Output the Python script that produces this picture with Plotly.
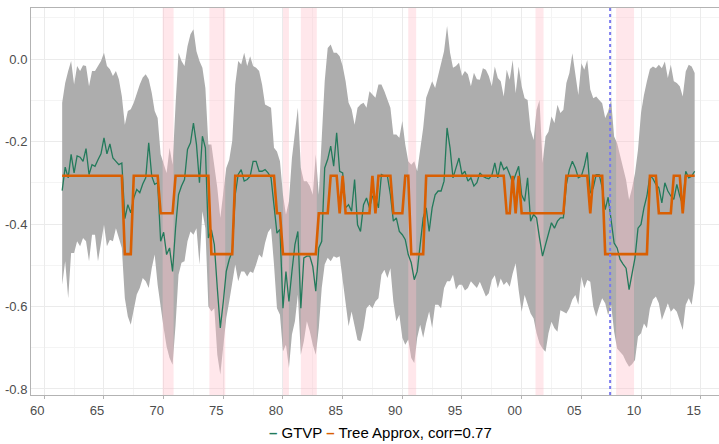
import pandas as pd
import plotly.graph_objects as go

# GTVP estimate, quarterly from 1961Q3 to 2014Q3
gtvp = [
    -0.319, -0.262,                  # 1961
    -0.288, -0.231, -0.276, -0.235,  # 1962
    -0.238, -0.248, -0.217, -0.280,  # 1963
    -0.256, -0.260, -0.244, -0.230,  # 1964
    -0.191, -0.230, -0.206, -0.240,  # 1965
    -0.248, -0.256, -0.252, -0.387,  # 1966
    -0.353, -0.373, -0.337, -0.316,  # 1967
    -0.324, -0.303, -0.288, -0.203,  # 1968
    -0.284, -0.304, -0.300, -0.442,  # 1969
    -0.420, -0.474, -0.458, -0.515,  # 1970
    -0.409, -0.329, -0.308, -0.292,  # 1971
    -0.219, -0.203, -0.155, -0.207,  # 1972
    -0.300, -0.187, -0.215, -0.434,  # 1973
    -0.414, -0.450, -0.555, -0.652,  # 1974
    -0.588, -0.515, -0.486, -0.466,  # 1975
    -0.329, -0.280, -0.268, -0.296,  # 1976
    -0.292, -0.284, -0.248, -0.248,  # 1977
    -0.272, -0.272, -0.268, -0.276,  # 1978
    -0.288, -0.353, -0.422, -0.413,  # 1979
    -0.604, -0.515, -0.588, -0.515,  # 1980
    -0.450, -0.418, -0.604, -0.482,  # 1981
    -0.478, -0.478, -0.503, -0.563,  # 1982
    -0.458, -0.442, -0.264, -0.243,  # 1983
    -0.211, -0.260, -0.179, -0.272,  # 1984
    -0.276, -0.361, -0.353, -0.369,  # 1985
    -0.292, -0.402, -0.418, -0.353,  # 1986
    -0.337, -0.361, -0.333, -0.335,  # 1987
    -0.361, -0.280, -0.284, -0.284,  # 1988
    -0.329, -0.393, -0.385, -0.418,  # 1989
    -0.426, -0.438, -0.474, -0.494,  # 1990
    -0.535, -0.515, -0.442, -0.385,  # 1991
    -0.361, -0.418, -0.361, -0.329,  # 1992
    -0.320, -0.320, -0.296, -0.167,  # 1993
    -0.216, -0.288, -0.264, -0.240,  # 1994
    -0.280, -0.272, -0.296, -0.288,  # 1995
    -0.308, -0.300, -0.276, -0.284,  # 1996
    -0.288, -0.290, -0.282, -0.252,  # 1997
    -0.288, -0.249, -0.268, -0.262,  # 1998
    -0.280, -0.300, -0.280, -0.260,  # 1999
    -0.329, -0.345, -0.288, -0.393,  # 2000
    -0.377, -0.385, -0.434, -0.478,  # 2001
    -0.450, -0.422, -0.397, -0.410,  # 2002
    -0.393, -0.385, -0.385, -0.304,  # 2003
    -0.268, -0.248, -0.264, -0.288,  # 2004
    -0.284, -0.260, -0.226, -0.325,  # 2005
    -0.312, -0.280, -0.280, -0.312,  # 2006
    -0.365, -0.335, -0.393, -0.446,  # 2007
    -0.458, -0.486, -0.497, -0.507,  # 2008
    -0.559, -0.523, -0.482, -0.410,  # 2009
    -0.401, -0.361, -0.332, -0.282,  # 2010
    -0.290, -0.304, -0.312, -0.349,  # 2011
    -0.300, -0.320, -0.332, -0.340,  # 2012
    -0.304, -0.332, -0.353, -0.272,  # 2013
    -0.288, -0.284, -0.272,          # 2014
]

# upper edge of the grey band
band_upper = [
    -0.106, -0.058,
    -0.029, -0.005, -0.062, -0.017,
    -0.029, -0.015, -0.017, -0.066,
    -0.029, -0.029, -0.017, -0.005,
    0.015, -0.017, -0.025, -0.041,
    -0.029, -0.049, -0.090, -0.159,
    -0.126, -0.122, -0.106, -0.082,
    -0.062, -0.045, -0.037, -0.049,
    -0.082, -0.126, -0.143, -0.231,
    -0.256, -0.276, -0.215, -0.256,
    -0.110, 0.015, -0.005, -0.017,
    0.031, 0.060, 0.072, 0.019,
    -0.005, -0.021, -0.070, -0.207,
    -0.207, -0.256, -0.312, -0.385,
    -0.316, -0.264, -0.244, -0.199,
    -0.062, -0.005, -0.013, 0.015,
    -0.017, 0.007, -0.017, -0.021,
    -0.029, -0.062, -0.110, -0.114,
    -0.118, -0.215, -0.224, -0.248,
    -0.329, -0.377, -0.345, -0.240,
    -0.183, -0.118, -0.264, -0.296,
    -0.296, -0.308, -0.329, -0.231,
    -0.329, -0.183, -0.054, 0.027,
    0.035, 0.015, 0.015, 0.007,
    -0.017, -0.054, -0.106, -0.122,
    -0.159, -0.118, -0.110, -0.106,
    -0.118, -0.078, -0.086, -0.094,
    -0.062, -0.062, -0.078, -0.098,
    -0.118, -0.183, -0.183, -0.191,
    -0.150, -0.207, -0.248, -0.256,
    -0.248, -0.272, -0.215, -0.167,
    -0.094, -0.074, -0.054, -0.070,
    -0.041, -0.017, 0.019, 0.080,
    0.015, -0.021, -0.017, -0.009,
    -0.041, -0.029, -0.037, -0.066,
    -0.033, -0.049, -0.050, -0.022,
    -0.026, -0.041, -0.066, -0.018,
    -0.046, -0.054, -0.091, -0.026,
    -0.050, -0.002, -0.083, -0.018,
    -0.066, -0.095, -0.099, -0.172,
    -0.196, -0.123, -0.099, -0.252,
    -0.188, -0.176, -0.139, -0.155,
    -0.111, -0.131, -0.123, -0.058,
    -0.034, 0.014, -0.038, -0.087,
    -0.010, -0.026, -0.002, -0.074,
    -0.095, -0.091, -0.099, -0.107,
    -0.143, -0.127, -0.099, -0.188,
    -0.204, -0.236, -0.265, -0.293,
    -0.341, -0.313, -0.277, -0.220,
    -0.131, -0.087, -0.054, -0.024,
    -0.018, -0.022, -0.014, -0.022,
    -0.006, -0.046, -0.014, -0.054,
    -0.058, -0.066, -0.091, -0.030,
    -0.014, -0.018, -0.034,
]

# lower edge of the grey band
band_lower = [
    -0.547, -0.490,
    -0.580, -0.470, -0.470, -0.442,
    -0.454, -0.434, -0.442, -0.490,
    -0.426, -0.426, -0.490, -0.442,
    -0.402, -0.454, -0.438, -0.442,
    -0.410, -0.434, -0.458, -0.580,
    -0.624, -0.644, -0.604, -0.571,
    -0.555, -0.531, -0.539, -0.555,
    -0.507, -0.474, -0.547, -0.604,
    -0.652, -0.697, -0.725, -0.741,
    -0.644, -0.523, -0.494, -0.490,
    -0.442, -0.418, -0.426, -0.410,
    -0.498, -0.369, -0.410, -0.600,
    -0.612, -0.604, -0.717, -0.765,
    -0.701, -0.628, -0.588, -0.539,
    -0.498, -0.539, -0.515, -0.515,
    -0.527, -0.515, -0.519, -0.498,
    -0.474, -0.482, -0.446, -0.420,
    -0.410, -0.498, -0.604, -0.620,
    -0.709, -0.693, -0.749, -0.668,
    -0.636, -0.571, -0.717, -0.684,
    -0.636, -0.660, -0.693, -0.717,
    -0.652, -0.555, -0.498, -0.482,
    -0.490, -0.478, -0.482, -0.478,
    -0.539, -0.588, -0.648, -0.612,
    -0.644, -0.681, -0.684, -0.652,
    -0.604, -0.596, -0.604, -0.588,
    -0.580, -0.523, -0.511, -0.531,
    -0.507, -0.588, -0.636, -0.620,
    -0.676, -0.693, -0.680, -0.725,
    -0.737, -0.676, -0.644, -0.676,
    -0.640, -0.612, -0.652, -0.596,
    -0.596, -0.604, -0.555, -0.539,
    -0.539, -0.523, -0.559, -0.547,
    -0.547, -0.561, -0.555, -0.539,
    -0.547, -0.555, -0.540, -0.560,
    -0.576, -0.568, -0.536, -0.524,
    -0.556, -0.532, -0.548, -0.540,
    -0.552, -0.520, -0.495, -0.560,
    -0.613, -0.572, -0.596, -0.617,
    -0.629, -0.665, -0.690, -0.702,
    -0.710, -0.665, -0.637, -0.653,
    -0.661, -0.609, -0.613, -0.617,
    -0.604, -0.583, -0.572, -0.596,
    -0.528, -0.556, -0.536, -0.540,
    -0.600, -0.625, -0.600, -0.580,
    -0.592, -0.621, -0.596, -0.661,
    -0.702, -0.710, -0.718, -0.734,
    -0.746, -0.740, -0.730, -0.673,
    -0.665, -0.641, -0.653, -0.604,
    -0.583, -0.576, -0.592, -0.633,
    -0.613, -0.592, -0.613, -0.604,
    -0.613, -0.633, -0.657, -0.596,
    -0.580, -0.596, -0.544,
]

# tree approximation: three leaf values, one code per quarter
tree_leaves = {"T": -0.283, "M": -0.374, "L": -0.473}
tree_codes = [
    "TT",
    "TTTT", "TTTT", "TTTT", "TTTT", "TTTL", "LLTT", "TTTT", "TTTM",  # 1962-69
    "MMMM", "TTTT", "TTTT", "TTTT", "LLLL", "LLLL", "TTTT", "TTTT", "TTTT", "TTMM",  # 1970-79
    "LLLL", "LLLL", "LLLL", "MMMM", "TTTM", "TMMM", "MMMM", "MMTM", "TTTT", "TMMM",  # 1980-89
    "MTTL", "LLLL", "TTTT", "TTTT", "TTTT", "TTTT", "TTTT", "TTTT", "TTTM", "MTMT",  # 1990-99
    "MMMM", "MMMM", "MMMM", "MMMT", "TTTT", "TTTM", "TTTT", "LLLL", "LLLL", "LLLL",  # 2000-09
    "LLLT", "TTMM", "MMMT", "TTMT", "TTT",  # 2010-14
]
tree = [tree_leaves[c] for c in "".join(tree_codes)]

# NBER recessions and the marked date
recessions = [
    ("1969-12-01", "1970-11-01"),
    ("1973-11-01", "1975-03-01"),
    ("1980-01-01", "1980-07-01"),
    ("1981-07-01", "1982-11-01"),
    ("1990-07-01", "1991-03-01"),
    ("2001-03-01", "2001-11-01"),
    ("2007-12-01", "2009-06-01"),
]
marker_date = "2007-06-01"

tick_years = list(range(1960, 2016, 5))
tick_labels = ["60", "65", "70", "75", "80", "85", "90", "95", "00", "05", "10", "15"]
y_ticks = [-0.8, -0.6, -0.4, -0.2, 0.0]
y_labels = ["-0.8", "-0.6", "-0.4", "-0.2", "0.0"]

dates = pd.date_range("1961-07-01", periods=len(gtvp), freq="QS")
assert len(band_upper) == len(gtvp) == len(band_lower) == len(tree)

fig = go.Figure()

# grey band
fig.add_trace(go.Scatter(x=dates, y=band_upper, mode="lines", line=dict(width=0),
                         hoverinfo="skip", showlegend=False))
fig.add_trace(go.Scatter(x=dates, y=band_lower, mode="lines", line=dict(width=0),
                         fill="tonexty", fillcolor="#adadad", hoverinfo="skip", showlegend=False))

# recession shading, above the band but under the lines
for start, end in recessions:
    fig.add_trace(go.Scatter(
        x=[start, start, end, end, start], y=[-2, 2, 2, -2, -2],
        mode="lines", line=dict(width=0), fill="toself",
        fillcolor="rgba(255,192,203,0.38)", hoverinfo="skip", showlegend=False))

fig.add_trace(go.Scatter(x=dates, y=gtvp, mode="lines", name="GTVP",
                         line=dict(color="#237a5b", width=1.3), showlegend=False))
fig.add_trace(go.Scatter(x=dates, y=tree, mode="lines", name="Tree Approx, corr=0.77",
                         line=dict(color="#d95f02", width=2.6), showlegend=False))

fig.add_shape(type="line", x0=marker_date, x1=marker_date, xref="x", yref="paper",
              y0=0, y1=1, line=dict(color="#7a7aee", width=2, dash="dot"), layer="above")

# legend drawn under the plot, like the original
fig.add_annotation(
    x=0.508, y=-0.096, xref="paper", yref="paper", xanchor="center", yanchor="middle",
    showarrow=False, font=dict(size=15, color="#000000"),
    text=("<span style='color:#237a5b'><b>–</b></span> GTVP "
          "<span style='color:#d95f02'><b>–</b></span> Tree Approx, corr=0.77"))

fig.update_layout(
    width=719, height=444,
    margin=dict(l=31, r=0, t=8, b=49, autoexpand=False),
    paper_bgcolor="white", plot_bgcolor="white",
    font=dict(family="Liberation Sans, Arial, sans-serif", size=13, color="#4d4d4d"),
    showlegend=False,
)
fig.update_xaxes(
    type="date", range=["1958-11-20", "2016-07-15"], automargin=False,
    tickvals=[f"{y}-01-01" for y in tick_years], ticktext=tick_labels,
    ticklabelshift=-7,
    showgrid=True, gridcolor="#ebebeb", gridwidth=1,
    minor=dict(tickvals=[f"{y}-07-01" for y in range(1957, 2020, 5)], showgrid=True,
               gridcolor="#f4f4f4", gridwidth=1),
    showline=True, linecolor="#b3b3b3", linewidth=1, mirror=True,
    ticks="outside", ticklen=3, tickcolor="#b3b3b3",
    zeroline=False,
)
fig.update_yaxes(
    range=[-0.8146, 0.1238], automargin=False,
    tickvals=y_ticks, ticktext=y_labels,
    showgrid=True, gridcolor="#ebebeb", gridwidth=1,
    minor=dict(tickvals=[-0.7, -0.5, -0.3, -0.1, 0.1], showgrid=True,
               gridcolor="#f4f4f4", gridwidth=1),
    showline=True, linecolor="#b3b3b3", linewidth=1,
    ticks="", zeroline=False,
)

# the page body has a default margin; drop it so the figure sits at the corner
fig.write_html("out.html", config={"displayModeBar": False},
               post_script="document.body.style.margin='0';")
